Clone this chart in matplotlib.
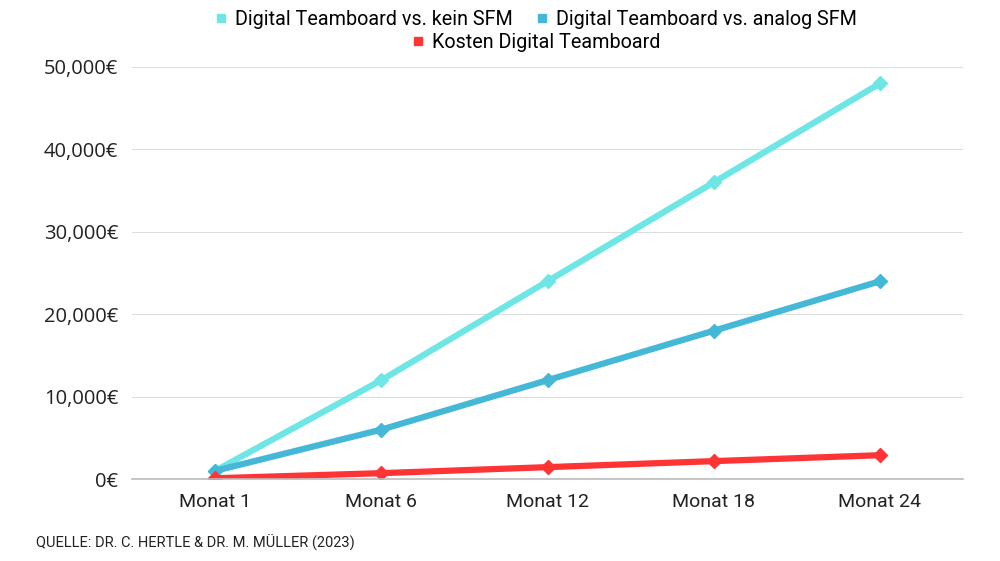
import matplotlib
matplotlib.use("Agg")
import matplotlib.pyplot as plt
from matplotlib.ticker import FuncFormatter
from matplotlib.lines import Line2D

categories = ["Monat 1", "Monat 6", "Monat 12", "Monat 18", "Monat 24"]
kein_sfm = [1000, 12000, 24000, 36000, 48000]
analog_sfm = [1000, 6000, 12000, 18000, 24000]
kosten = [100, 720, 1450, 2180, 2900]

series = [
    ("Digital Teamboard vs. kein SFM", kein_sfm, "#6EE6E6"),
    ("Digital Teamboard vs. analog SFM", analog_sfm, "#45B7D7"),
    ("Kosten Digital Teamboard", kosten, "#FF3535"),
]

fig = plt.figure(figsize=(10, 5.61), dpi=100)
ax = fig.add_axes([0.132, 0.146, 0.831, 0.7346])
x = list(range(len(categories)))
for name, vals, col in series:
    ax.plot(x, vals, color=col, lw=4.5, marker="D", ms=7, solid_capstyle="butt", label=name)

ax.set_xlim(-0.5, 4.5)
ax.set_ylim(0, 50000)
ax.set_yticks(range(0, 50001, 10000))
ax.yaxis.set_major_formatter(FuncFormatter(lambda v, p: f"{int(v):,}€"))
ax.set_xticks(x)
ax.set_xticklabels(categories)
ax.tick_params(axis="x", labelfontfamily="Roboto", labelsize=14, labelcolor="#222222", length=0, pad=10)
ax.tick_params(axis="y", labelfontfamily="Open Sans", labelsize=14.5, labelcolor="#222222", length=0, pad=10)
ax.grid(axis="y", color="#dddddd", lw=0.8)
ax.set_axisbelow(True)
for s in ["top", "right", "left"]:
    ax.spines[s].set_visible(False)
ax.spines["bottom"].set_color("#bbbbbb")
ax.spines["bottom"].set_linewidth(1.2)

handles = [Line2D([], [], marker="s", ls="", color=c, ms=6) for _, _, c in series]
labels = [n for n, _, _ in series]
fig.legend(handles[:2], labels[:2], loc="center", bbox_to_anchor=(0.535, 0.966), ncol=2,
           frameon=False, prop={"family": ["Roboto", "DejaVu Sans"], "size": 14.2},
           handletextpad=0.3, columnspacing=1.1, handlelength=0.8)
fig.legend(handles[2:], labels[2:], loc="center", bbox_to_anchor=(0.535, 0.925), ncol=1,
           frameon=False, prop={"family": ["Roboto", "DejaVu Sans"], "size": 14.2},
           handletextpad=0.3, handlelength=0.8)

fig.text(0.036, 0.017, "QUELLE: DR. C. HERTLE & DR. M. MÜLLER (2023)",
         family=["Liberation Sans Narrow", "Roboto", "DejaVu Sans"], fontsize=10.5, color="#222222",
         va="bottom")

fig.savefig("out.png", dpi=100, facecolor="white")
